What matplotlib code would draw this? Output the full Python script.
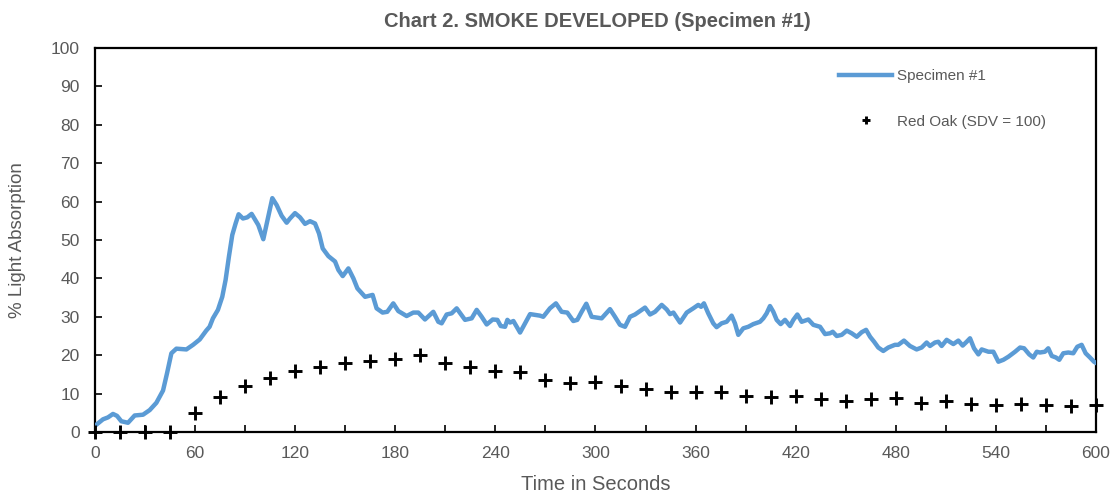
import matplotlib
matplotlib.use('Agg')
import matplotlib.pyplot as plt
from matplotlib.ticker import MultipleLocator

# Specimen #1 smoke trace (time s, % light absorption)
spec_t = [0, 4.8, 7.8, 10.8, 13.2, 15.8, 19.8, 23.8, 28.8, 32.8, 36.8, 40.8,
          43.2, 45.8, 48.8, 54.8, 58.8, 62.8, 66.7, 68.7, 70.7, 73.7, 76.3,
          78.3, 80.3, 82.3, 84.3, 86.1, 88.7, 91.3, 93.9, 97.9, 100.9, 103.9,
          106.3, 108.9, 111.9, 114.9, 116.9, 119.9, 122.9, 125.9, 128.9,
          131.9, 134.3, 136.5, 139.9, 143.9, 145.9, 148.5, 151.9, 154.9,
          157.3, 161.9, 166.4, 168.8, 172.4, 175.2, 178.8, 181.8, 186.8,
          190.8, 193.8, 197.8, 202.8, 205.8, 207.8, 210.8, 213.8, 216.8,
          221.8, 225.8, 228.8, 231.8, 234.8, 238.4, 241.2, 243.2, 245.8,
          247.2, 248.8, 250.8, 254.8, 257.8, 260.8, 266.7, 268.7, 272.7,
          276.3, 279.7, 283.1, 286.7, 289.1, 291.7, 294.5, 297.7, 300.7,
          303.7, 308.7, 311.7, 314.7, 317.7, 320.7, 323.7, 327.7, 329.7,
          332.7, 335.7, 339.7, 342.7, 344.7, 346.7, 350.7, 354.7, 358.6,
          361.6, 363.3, 365.0, 367.6, 370.6, 372.6, 375.6, 378.6, 381.6,
          383.6, 385.6, 388.6, 391.6, 394.6, 398.6, 400.6, 402.6, 404.6,
          406.6, 408.6, 411.0, 413.6, 416.6, 418.6, 421.0, 423.6, 427.6,
          430.6, 434.6, 437.6, 440.6, 442.2, 444.6, 447.6, 450.6, 453.6,
          456.6, 459.6, 462.2, 464.6, 467.0, 469.5, 472.5, 475.5, 479.5,
          481.5, 484.9, 488.5, 492.5, 495.5, 498.5, 500.5, 503.5, 505.5,
          507.5, 510.5, 514.5, 517.5, 520.1, 522.5, 524.5, 526.9, 529.5,
          531.5, 535.5, 538.5, 541.5, 544.5, 547.5, 551.5, 554.5, 556.9,
          560.0, 562.4, 564.5, 566.4, 569.4, 571.4, 573.5, 576.0, 578.0,
          580.4, 583.4, 586.4, 588.8, 591.4, 593.8, 596.4, 598.8, 600]
spec_y = [1.6, 3.3, 3.8, 4.7, 4.2, 2.8, 2.4, 4.3, 4.5, 5.7, 7.6, 10.8,
          15.3, 20.5, 21.7, 21.5, 22.7, 24.1, 26.4, 27.4, 29.6, 31.8, 35.2,
          39.6, 45.7, 51.3, 54.3, 56.7, 55.6, 55.9, 56.8, 53.9, 50.2, 56.1,
          60.9, 59.1, 56.3, 54.5, 55.6, 57.0, 55.9, 54.2, 54.9,
          54.3, 51.7, 47.8, 45.8, 44.4, 42.2, 40.6, 42.6, 40.0,
          37.4, 35.2, 35.7, 32.2, 31.1, 31.3, 33.5, 31.5, 30.2,
          31.1, 31.1, 29.3, 31.3, 28.7, 28.3, 30.6, 30.9, 32.2,
          29.2, 29.6, 31.8, 30.0, 28.0, 29.3, 29.2, 27.6, 27.4,
          29.2, 28.5, 28.9, 25.9, 28.3, 30.7, 30.3, 30.0, 32.2,
          33.5, 31.3, 31.1, 28.9, 29.2, 31.3, 33.4, 30.0, 29.8,
          29.6, 32.0, 30.0, 27.9, 27.4, 30.0, 30.6, 31.8, 32.4,
          30.6, 31.3, 33.1, 31.9, 30.7, 31.1, 28.5, 31.1, 32.2,
          33.1, 32.6, 33.5, 30.9, 28.3, 27.3, 28.3, 28.7, 30.3,
          28.3, 25.3, 27.0, 27.4, 28.1, 28.7, 29.6, 30.9, 32.8,
          31.3, 29.2, 28.1, 29.2, 27.6, 29.2, 30.6, 28.7, 29.3,
          27.9, 27.4, 25.5, 25.7, 26.1, 25.0, 25.3, 26.4, 25.7,
          24.8, 26.0, 26.6, 24.8, 23.5, 22.0, 21.1, 22.0, 22.7,
          22.7, 23.8, 22.4, 21.5, 22.0, 23.3, 22.4, 23.3, 23.5,
          22.4, 24.0, 22.9, 23.8, 22.5, 23.5, 24.4, 21.8, 20.2,
          21.5, 20.9, 20.9, 18.3, 18.8, 19.6, 20.9, 22.0, 21.8,
          20.2, 19.4, 20.9, 20.7, 20.9, 21.8, 19.8, 19.4, 18.8,
          20.5, 20.7, 20.5, 22.2, 22.7, 20.5, 19.4, 18.3, 18.0]

# Red Oak reference (SDV = 100), every 15 s
oak_t = list(range(0, 601, 15))
oak_y = [0, 0, 0, 0, 5, 9, 12, 14, 16, 17, 18, 18.5, 19, 20, 18, 17, 16,
         15.5, 13.5, 12.8, 13, 12, 11.3, 10.3, 10.5, 10.5, 9.5, 9, 9.5, 8.5,
         8.2, 8.5, 8.8, 7.5, 8, 7.2, 7, 7.3, 7, 6.8, 7]

plt.rcParams['font.family'] = ['Liberation Sans', 'DejaVu Sans']
GRAY = '#595959'

fig = plt.figure(figsize=(11.12, 4.95), dpi=100)
ax = fig.add_axes([0.0854, 0.1273, 0.9002, 0.7757])

ax.plot(spec_t, spec_y, color='#5B9BD5', linewidth=3.2,
        solid_joinstyle='round', label='Specimen #1', zorder=3)
ax.plot(oak_t, oak_y, linestyle='none', marker='+', color='black',
        markersize=9.5, markeredgewidth=2.1, label='Red Oak (SDV = 100)',
        zorder=4, clip_on=False)

ax.set_xlim(0, 600)
ax.set_ylim(0, 100)
ax.xaxis.set_major_locator(MultipleLocator(60))
ax.xaxis.set_minor_locator(MultipleLocator(30))
ax.yaxis.set_major_locator(MultipleLocator(10))
ax.tick_params(which='both', direction='in', colors='black',
               labelcolor=GRAY, labelsize=12.5, width=1.2, length=5,
               top=False, right=False)
ax.tick_params(axis='x', pad=10)
ax.tick_params(axis='y', pad=11)
for sp in ax.spines.values():
    sp.set_linewidth(1.6)
    sp.set_color('black')

ax.set_xlabel('Time in Seconds', fontsize=14.5, color=GRAY, labelpad=10)
ax.set_ylabel('% Light Absorption', fontsize=13.5, color=GRAY, labelpad=18)
fig.suptitle('Chart 2. SMOKE DEVELOPED (Specimen #1)', fontsize=14.5,
             fontweight='bold', color=GRAY, x=0.537, y=0.975)

leg = ax.legend(loc='upper left', bbox_to_anchor=(0.73, 0.98),
                frameon=False, fontsize=11, labelcolor=GRAY,
                labelspacing=2.05, handlelength=3.45, markerscale=0.6,
                handletextpad=0.3)

fig.savefig('out.png', dpi=100)
